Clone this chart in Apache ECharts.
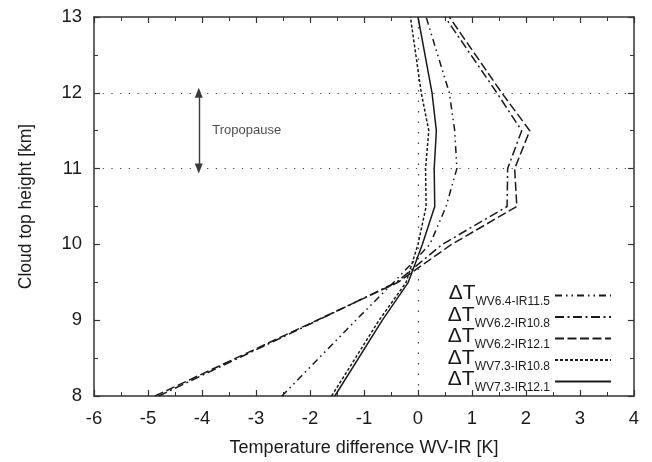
<!DOCTYPE html>
<html>
<head>
<meta charset="utf-8">
<script src="https://cdn.jsdelivr.net/npm/echarts@6/dist/echarts.min.js"></script>
<style>
html,body{margin:0;padding:0;background:#fff;}
#chart{width:652px;height:462px;}
</style>
</head>
<body>
<div id="chart"></div>
<script>
// Cloud top heights [km]
const heights = [8, 9, 9.5, 10, 10.5, 11, 11.5, 12, 13];
// Temperature differences [K]
const wv64_ir115 = [-2.52, -1.15, -0.45, 0.22, 0.52, 0.72, 0.68, 0.58, 0.15];
const wv62_ir108 = [-4.80, -1.85, -0.40, 0.45, 1.65, 1.66, 1.92, 1.46, 0.50];
const wv62_ir121 = [-4.87, -1.87, -0.37, 0.62, 1.83, 1.79, 2.07, 1.55, 0.58];
const wv73_ir108 = [-1.60, -0.72, -0.22, 0.00, 0.15, 0.14, 0.20, 0.06, -0.14];
const wv73_ir121 = [-1.54, -0.66, -0.18, 0.08, 0.31, 0.30, 0.34, 0.26, 0.00];
const seriesNames = ['WV6.4-IR11.5', 'WV6.2-IR10.8', 'WV6.2-IR12.1', 'WV7.3-IR10.8', 'WV7.3-IR12.1'];
const tropopause = [11, 12];
const tropopauseX = -4.06;
const xTicks = [-6, -5, -4, -3, -2, -1, 0, 1, 2, 3, 4];
const yTicks = [8, 9, 10, 11, 12, 13];

const FONT = 'Liberation Sans, Arial, Helvetica, sans-serif';
const INK = '#1a1a1a';
const seriesValues = [wv64_ir115, wv62_ir108, wv62_ir121, wv73_ir108, wv73_ir121];
const dashes = [[7, 4, 1.5, 4, 1.5, 4], [9, 3.5, 2, 3.5], [9, 3.5], [3, 2], 'solid'];

const chart = echarts.init(document.getElementById('chart'), null, {renderer: 'canvas'});

const grid = {left: 94, right: 18, top: 17, bottom: 64};
const tickCommon = {
  axisLine: {show: true, onZero: false, lineStyle: {color: '#333', width: 1.5}},
  axisTick: {show: true, inside: true, length: 6, lineStyle: {color: '#333', width: 1.2}},
  minorTick: {show: true, splitNumber: 2, length: 4, lineStyle: {color: '#333', width: 1}},
  splitLine: {show: false},
  minorSplitLine: {show: false}
};

const series = seriesNames.map((name, i) => ({
  name: name,
  type: 'line',
  symbol: 'none',
  showSymbol: false,
  silent: true,
  data: heights.map((h, k) => [seriesValues[i][k], h]),
  lineStyle: {color: INK, width: 1.5, type: dashes[i]},
  itemStyle: {color: INK},
  z: 3
}));

// reference lines: zero line and tropopause levels
series.push({
  name: 'refs',
  type: 'line',
  data: [],
  silent: true,
  markLine: {
    silent: true,
    symbol: 'none',
    label: {show: false},
    lineStyle: {color: '#444', width: 1.2, type: [1.2, 7.5]},
    data: [
      {yAxis: tropopause[0]},
      {yAxis: tropopause[1]},
      {xAxis: 0, lineStyle: {type: [1.5, 9]}}
    ]
  }
});
// tropopause arrow
series.push({
  name: 'arrow',
  type: 'line',
  data: [],
  silent: true,
  markLine: {
    silent: true,
    symbol: ['triangle', 'triangle'],
    symbolSize: [8, 10],
    label: {show: false},
    lineStyle: {color: '#3a3a3a', width: 1.4, type: 'solid'},
    data: [[{coord: [tropopauseX, tropopause[1]]}, {coord: [tropopauseX, tropopause[0]]}]]
  }
});
// tropopause label
series.push({
  name: 'tropolabel',
  type: 'scatter',
  silent: true,
  symbolSize: 0,
  data: [[tropopauseX + 0.25, (tropopause[0] + tropopause[1]) / 2]],
  label: {show: true, position: 'right', distance: 0, formatter: 'Tropopause', fontFamily: FONT, fontSize: 13, color: INK}
});

chart.setOption({
  animation: false,
  backgroundColor: '#fff',
  grid: grid,
  legend: {
    data: seriesNames,
    orient: 'vertical',
    align: 'right',
    right: 35,
    top: 278,
    itemWidth: 56,
    itemHeight: 12,
    itemGap: -3.5,
    selectedMode: false,
    itemStyle: {opacity: 0, color: 'transparent', borderWidth: 0},
    formatter: n => '{d|ΔT}{s|' + n + '}',
    textStyle: {
      color: INK,
      fontFamily: FONT,
      lineHeight: 17,
      rich: {
        d: {fontSize: 21, fontFamily: FONT, color: INK, lineHeight: 17, verticalAlign: 'bottom'},
        s: {fontSize: 12, fontFamily: FONT, color: INK, lineHeight: 17, verticalAlign: 'bottom', padding: [0, 0, -4, 0]}
      }
    }
  },
  xAxis: [
    Object.assign({
      type: 'value', min: xTicks[0], max: xTicks[xTicks.length - 1], interval: 1,
      position: 'bottom',
      name: 'Temperature difference WV-IR [K]',
      nameLocation: 'middle', nameGap: 43,
      nameTextStyle: {fontFamily: FONT, fontSize: 18, color: INK},
      axisLabel: {fontFamily: FONT, fontSize: 18.5, color: INK, margin: 13}
    }, tickCommon),
    Object.assign({
      type: 'value', min: xTicks[0], max: xTicks[xTicks.length - 1], interval: 1,
      position: 'top', axisLabel: {show: false}
    }, tickCommon)
  ],
  yAxis: [
    Object.assign({
      type: 'value', min: yTicks[0], max: yTicks[yTicks.length - 1], interval: 1,
      position: 'left',
      name: 'Cloud top height [km]',
      nameLocation: 'middle', nameGap: 59, nameRotate: 90,
      nameTextStyle: {fontFamily: FONT, fontSize: 17.5, color: INK},
      axisLabel: {fontFamily: FONT, fontSize: 18.5, color: INK, margin: 12}
    }, tickCommon),
    Object.assign({
      type: 'value', min: yTicks[0], max: yTicks[yTicks.length - 1], interval: 1,
      position: 'right', axisLabel: {show: false}
    }, tickCommon)
  ],
  series: series
});
</script>
</body>
</html>
